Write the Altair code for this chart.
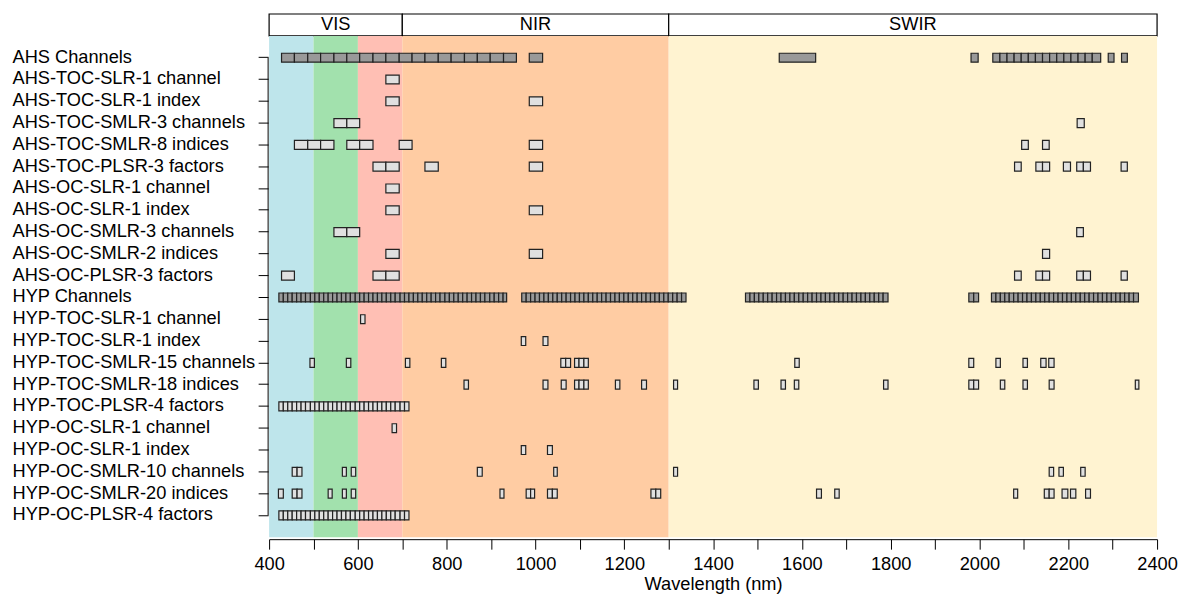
import altair as alt
import pandas as pd

FONT = "Liberation Sans"
FS = 18.3

row_labels = [
    "AHS Channels", "AHS-TOC-SLR-1 channel", "AHS-TOC-SLR-1 index",
    "AHS-TOC-SMLR-3 channels", "AHS-TOC-SMLR-8 indices", "AHS-TOC-PLSR-3 factors",
    "AHS-OC-SLR-1 channel", "AHS-OC-SLR-1 index", "AHS-OC-SMLR-3 channels",
    "AHS-OC-SMLR-2 indices", "AHS-OC-PLSR-3 factors", "HYP Channels",
    "HYP-TOC-SLR-1 channel", "HYP-TOC-SLR-1 index", "HYP-TOC-SMLR-15 channels",
    "HYP-TOC-SMLR-18 indices", "HYP-TOC-PLSR-4 factors", "HYP-OC-SLR-1 channel",
    "HYP-OC-SLR-1 index", "HYP-OC-SMLR-10 channels", "HYP-OC-SMLR-20 indices",
    "HYP-OC-PLSR-4 factors",
]

# spectral regions (header) and background bands
region_names = ["VIS", "NIR", "SWIR"]
region_start = [400, 700, 1300]
region_end = [700, 1300, 2400]

band_start = [400, 500, 600, 700, 1300]
band_end = [500, 600, 700, 1300, 2400]
band_color = ["#bee5eb", "#a2e1ad", "#ffbfb4", "#ffcca3", "#fff3d1"]

x_ticks = [400, 500, 600, 700, 800, 900, 1000, 1100, 1200, 1300, 1400, 1500,
           1600, 1700, 1800, 1900, 2000, 2100, 2200, 2300, 2400]

# AHS sensor channels (band edges, nm)
ahs_vnir_edges = [428, 457, 487, 516, 546, 575, 604, 634, 663, 693, 722, 751,
                  781, 810, 840, 869, 898, 928, 957]
ahs_swir_edges = [2030, 2046, 2062, 2078, 2094, 2110, 2126, 2142, 2158, 2174,
                  2190, 2206, 2222, 2238, 2254, 2273]
ahs_single = [(986, 1016), (1549, 1631), (1981, 1997), (2290, 2303), (2320, 2333)]

# HYP sensor channels (band edges, nm)
hyp_seg1 = [422, 432, 442, 452, 462, 472, 482, 493, 503, 513, 523, 533, 543,
            553, 563, 573, 583, 594, 604, 614, 624, 634, 644, 654, 664, 674,
            684, 695, 705, 715, 725, 735, 745, 755, 765, 775, 785, 796, 806,
            816, 826, 836, 846, 856, 866, 876, 886, 897, 907, 917, 927, 935]
hyp_seg2 = [969, 979, 989, 999, 1009, 1019, 1029, 1039, 1049, 1059, 1069, 1079,
            1089, 1099, 1109, 1119, 1129, 1139, 1149, 1159, 1169, 1179, 1189,
            1199, 1209, 1219, 1229, 1239, 1249, 1259, 1269, 1279, 1289, 1299,
            1309, 1319, 1329, 1339]
hyp_seg3 = [1473, 1483, 1493, 1503, 1513, 1523, 1533, 1543, 1553, 1563, 1573,
            1583, 1593, 1603, 1613, 1623, 1633, 1643, 1653, 1663, 1673, 1683,
            1693, 1703, 1713, 1723, 1733, 1743, 1753, 1763, 1773, 1783, 1794]
hyp_seg4 = [1976, 1987, 1998]
hyp_seg5 = [2027, 2037, 2047, 2057, 2067, 2077, 2087, 2097, 2107, 2117, 2127,
            2137, 2147, 2157, 2167, 2177, 2187, 2197, 2207, 2217, 2227, 2237,
            2247, 2257, 2267, 2277, 2287, 2297, 2307, 2317, 2327, 2337, 2347, 2358]
hyp_plsr_edges = [422, 432, 442, 452, 462, 472, 482, 493, 503, 513, 523, 533,
                  543, 553, 563, 573, 583, 594, 604, 614, 624, 634, 644, 654,
                  664, 674, 684, 695, 705, 715]

# selected wavelengths per model (start, end nm)
ahs_toc_slr_channel = [(663, 693)]
ahs_toc_slr_index = [(663, 693), (986, 1016)]
ahs_toc_smlr_channels = [(546, 575), (575, 604), (2220, 2236)]
ahs_toc_smlr_indices = [(457, 487), (487, 516), (516, 546), (575, 604), (604, 634),
                        (693, 722), (986, 1016), (2095, 2110), (2142, 2157)]
ahs_toc_plsr = [(634, 663), (663, 693), (751, 781), (986, 1016), (2079, 2094),
                (2127, 2142), (2142, 2158), (2189, 2205), (2219, 2234),
                (2234, 2250), (2319, 2333)]
ahs_oc_slr_channel = [(663, 693)]
ahs_oc_slr_index = [(663, 693), (986, 1016)]
ahs_oc_smlr_channels = [(546, 575), (575, 604), (2219, 2234)]
ahs_oc_smlr_indices = [(663, 693), (986, 1016), (2142, 2158)]
ahs_oc_plsr = [(428, 457), (634, 663), (663, 693), (2079, 2094), (2127, 2142),
               (2142, 2158), (2219, 2234), (2234, 2250), (2319, 2333)]
hyp_toc_slr_channel = [(606, 616)]
hyp_toc_slr_index = [(968, 978), (1017, 1028)]
hyp_toc_smlr_channels = [(492, 502), (574, 584), (707, 717), (788, 798),
                         (1057, 1068), (1068, 1079), (1088, 1098), (1098, 1109),
                         (1109, 1119), (1584, 1594), (1976, 1987), (2037, 2047),
                         (2098, 2108), (2138, 2150), (2156, 2168)]
hyp_toc_smlr_indices = [(839, 849), (1017, 1028), (1058, 1069), (1088, 1098),
                        (1098, 1109), (1109, 1119), (1180, 1190), (1239, 1250),
                        (1311, 1320), (1492, 1502), (1553, 1563), (1583, 1593),
                        (1784, 1794), (1976, 1987), (1987, 1998), (2047, 2057),
                        (2098, 2108), (2157, 2168), (2351, 2359)]
hyp_oc_slr_channel = [(677, 687)]
hyp_oc_slr_index = [(968, 978), (1027, 1038)]
hyp_oc_smlr_channels = [(452, 463), (463, 474), (565, 574), (585, 595), (869, 880),
                        (1041, 1049), (1311, 1320), (2157, 2167), (2179, 2189),
                        (2228, 2238)]
hyp_oc_smlr_indices = [(421, 432), (452, 463), (463, 474), (533, 542), (565, 574),
                       (585, 595), (920, 929), (979, 989), (989, 998), (1027, 1038),
                       (1038, 1049), (1260, 1271), (1271, 1282), (1633, 1644),
                       (1674, 1684), (2077, 2086), (2146, 2157), (2157, 2168),
                       (2186, 2199), (2205, 2217), (2239, 2250)]


def edges_to_boxes(edges):
    return list(zip(edges[:-1], edges[1:]))


ahs_channels = edges_to_boxes(ahs_vnir_edges) + ahs_single + edges_to_boxes(ahs_swir_edges)
hyp_channels = (edges_to_boxes(hyp_seg1) + edges_to_boxes(hyp_seg2) + edges_to_boxes(hyp_seg3)
                + edges_to_boxes(hyp_seg4) + edges_to_boxes(hyp_seg5))
hyp_plsr = edges_to_boxes(hyp_plsr_edges)

row_boxes = [
    ahs_channels, ahs_toc_slr_channel, ahs_toc_slr_index, ahs_toc_smlr_channels,
    ahs_toc_smlr_indices, ahs_toc_plsr, ahs_oc_slr_channel, ahs_oc_slr_index,
    ahs_oc_smlr_channels, ahs_oc_smlr_indices, ahs_oc_plsr, hyp_channels,
    hyp_toc_slr_channel, hyp_toc_slr_index, hyp_toc_smlr_channels,
    hyp_toc_smlr_indices, hyp_plsr, hyp_oc_slr_channel, hyp_oc_slr_index,
    hyp_oc_smlr_channels, hyp_oc_smlr_indices, hyp_plsr,
]

records = []
for label, boxes in zip(row_labels, row_boxes):
    kind = "channel" if label.endswith("Channels") else "selected"
    for s, e in boxes:
        records.append({"row": label, "start": s, "end": e, "kind": kind})
box_df = pd.DataFrame(records)

band_df = pd.DataFrame({"start": band_start, "end": band_end, "color": band_color})
region_df = pd.DataFrame({"name": region_names, "start": region_start, "end": region_end})
axis_df = pd.DataFrame({"row": [row_labels[0]], "row_end": [row_labels[-1]]})

W = 891
xscale = alt.Scale(domain=[400, 2400], nice=False, zero=False)
yscale = alt.Scale(type="band", domain=row_labels, paddingInner=0.59, paddingOuter=0.795)

y_axis = alt.Axis(title=None, labelAlign="left", labelPadding=247, tickSize=10,
                  offset=1, domain=False, labelFontSize=FS, labelFont=FONT,
                  labelColor="black", tickColor="black", tickWidth=1,
                  labelLimit=500, labelBaseline="middle", bandPosition=0.5)

x_axis = alt.Axis(title="Wavelength (nm)", values=x_ticks, format="d",
                  labelExpr="datum.value % 200 === 0 ? datum.label : ''",
                  tickSize=10, labelPadding=6, offset=2, grid=False,
                  domainColor="black", tickColor="black", labelColor="black",
                  domainWidth=1, tickWidth=1, labelFontSize=FS, labelFont=FONT,
                  titleFontSize=FS, titleFont=FONT, titleFontWeight="normal",
                  titleColor="black", titlePadding=3, labelFlush=False,
                  labelOverlap=False)

bg = alt.Chart(band_df).mark_rect().encode(
    x=alt.X("start:Q", scale=xscale, axis=x_axis),
    x2="end:Q",
    fill=alt.Fill("color:N", scale=None),
)

boxes = alt.Chart(box_df).mark_rect(stroke="#222222", strokeWidth=1.2).encode(
    x=alt.X("start:Q", scale=xscale, axis=x_axis),
    x2="end:Q",
    y=alt.Y("row:N", scale=yscale, axis=y_axis, sort=row_labels),
    fill=alt.Fill("kind:N", scale=alt.Scale(domain=["channel", "selected"],
                                            range=["#999999", "#e0e0e0"]), legend=None),
)

yrule = alt.Chart(axis_df).mark_rule(color="black", strokeWidth=1).encode(
    x=alt.value(-1),
    y=alt.Y("row:N", scale=yscale, axis=y_axis, bandPosition=0.5, sort=row_labels),
    y2=alt.Y2("row_end:N", bandPosition=0.5),
)

main = alt.layer(bg, boxes, yrule).properties(width=W, height=503)

hdr_rect = alt.Chart(region_df).mark_rect(fill="white", stroke="black", strokeWidth=1.2).encode(
    x=alt.X("start:Q", scale=xscale, axis=None),
    x2="end:Q",
)
hdr_text = alt.Chart(region_df).transform_calculate(
    mid="(datum.start + datum.end) / 2"
).mark_text(fontSize=FS, font=FONT, color="black", baseline="middle").encode(
    x=alt.X("mid:Q", scale=xscale, axis=None),
    text="name:N",
)
header = alt.layer(hdr_rect, hdr_text).properties(width=W, height=22)

chart = alt.vconcat(header, main, spacing=0, bounds="flush").properties(
    padding={"left": 4, "top": 4, "right": 0, "bottom": 0}
).configure_view(stroke=None)

chart.save("out.html", embed_options={"renderer": "svg", "actions": False})
